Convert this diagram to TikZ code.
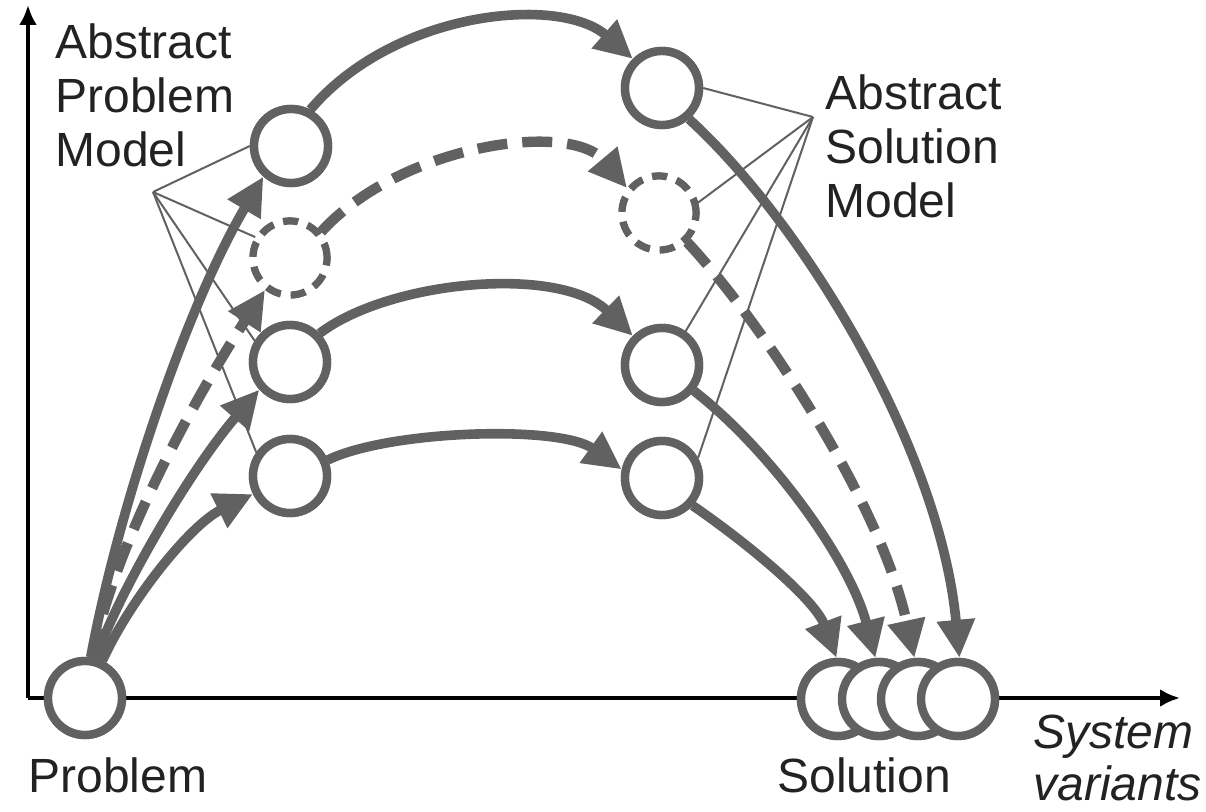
\documentclass[tikz,border=0pt]{standalone}
\usepackage{fontspec}
\setmainfont{Liberation Sans}
\usetikzlibrary{arrows.meta}
\definecolor{cgray}{HTML}{616161}
\definecolor{ctext}{HTML}{222222}
\begin{document}
\begin{tikzpicture}[x=0.5pt,y=-0.5pt,
  mod/.style={circle, draw=cgray, fill=white, line width=4.2pt, minimum size=37pt, inner sep=0pt},
  dmod/.style={circle, draw=cgray, fill=white, line width=3.6pt, dash pattern=on 7.5pt off 5pt, minimum size=37pt, inner sep=0pt},
  flow/.style={draw=cgray, line width=4.8pt, -{Triangle[length=19pt,width=18pt]}},
  dflow/.style={flow, line width=5.2pt, dash pattern=on 15pt off 7.5pt},
  pointer/.style={draw=cgray, line width=1pt},
  axis/.style={draw=black, line width=2pt, -{Latex[length=10pt,width=9pt]}},
  lbl/.style={text=ctext, font=\fontsize{24pt}{27pt}\selectfont, inner sep=0pt, align=left}]
\useasboundingbox (0,0) rectangle (1206,812);
% axes
\coordinate (o) at (28,698);
\coordinate (ytop) at (28,5);
\coordinate (xend) at (1180,698);
\draw[axis] (o) -- (ytop);
\draw[axis] (o) -- (xend);
% node positions (circles drawn again later, on top)
\path (85,698) node[mod] (p) {};
\path (291,146) node[mod] (a1) {}
      (290,258) node[dmod] (a2) {}
      (290,362) node[mod] (a3) {}
      (290,476) node[mod] (a4) {};
\path (662,88) node[mod] (s1) {}
      (659,213) node[dmod] (s2) {}
      (662,365) node[mod] (s3) {}
      (662,478) node[mod] (s4) {};
\path (838,699) node[mod] (r1) {}
      (879,699) node[mod] (r2) {}
      (918,699) node[mod] (r3) {}
      (958,699) node[mod] (r4) {};
% flows problem -> abstract problem models
\draw[flow] (p.82) .. controls (120,500) and (190,300) .. (a1.228);
\draw[dflow] (p.80) .. controls (115,540) and (200,390) .. (a2.232);
\draw[flow] (p.75) .. controls (120,590) and (190,470) .. (a3.222);
\draw[flow] (p.65) .. controls (130,600) and (190,525) .. (a4.206);
% abstract problem -> abstract solution
\draw[flow] (a1.62) .. controls (395,10) and (560,-5) .. (s1.135);
\draw[dflow] (a2.40) .. controls (400,145) and (570,120) .. (s2.142);
\draw[flow] (a3.44) .. controls (390,280) and (560,265) .. (s3.135);
\draw[flow] (a4.23) .. controls (390,430) and (560,425) .. (s4.168);
% abstract solution -> solution
\draw[flow] (s1.311) .. controls (805,225) and (940,450) .. (r4.88);
\draw[dflow] (s2.314) .. controls (760,320) and (880,500) .. (r3.95);
\draw[flow] (s3.321) .. controls (770,450) and (850,560) .. (r2.95);
\draw[flow] (s4.318) .. controls (750,545) and (815,600) .. (r1.92);
% pointer lines
\coordinate (lp) at (153,192);
\coordinate (ls) at (813,117);
\draw[pointer] (lp) -- (a1.180);
\draw[pointer] (lp) -- (a2.149);
\draw[pointer] (lp) -- (a3.149);
\draw[pointer] (lp) -- (a4.145);
\draw[pointer] (ls) -- (s1.0);
\draw[pointer] (ls) -- (s2.15);
\draw[pointer] (ls) -- (s3.55);
\draw[pointer] (ls) -- (s4.29);
% circles on top
\path (85,698) node[mod] {};
\path (291,146) node[mod] {} (290,258) node[dmod] {} (290,362) node[mod] {} (290,476) node[mod] {};
\path (662,88) node[mod] {} (659,213) node[dmod] {} (662,365) node[mod] {} (662,478) node[mod] {};
\path (838,699) node[mod] {} (879,699) node[mod] {} (918,699) node[mod] {} (958,699) node[mod] {};
% labels
\node[lbl, anchor=base west] (tapm) at (55,167) {Abstract\\Problem\\Model};
\node[lbl, anchor=base west] (tasm) at (825,218) {Abstract\\Solution\\Model};
\node[lbl, anchor=base west] (tprob) at (28,792) {Problem};
\node[lbl, anchor=base west] (tsol) at (777,792) {Solution};
\node[lbl, anchor=base west, font=\fontsize{24pt}{26pt}\selectfont\itshape] (tsys) at (1033,800) {System\\variants};
\end{tikzpicture}
\end{document}
